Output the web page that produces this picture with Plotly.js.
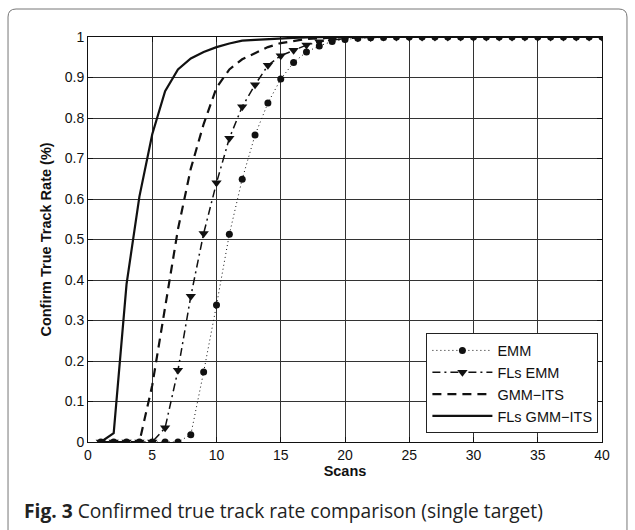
<!DOCTYPE html>
<html>
<head>
<meta charset="utf-8">
<script src="https://cdn.plot.ly/plotly-3.0.1.min.js"></script>
<style>
html,body{margin:0;padding:0;background:#fff;}
#chart{width:635px;height:530px;}
</style>
</head>
<body>
<div id="chart"></div>
<script>
// Scans 1..40
const scans = [1,2,3,4,5,6,7,8,9,10,11,12,13,14,15,16,17,18,19,20,21,22,23,24,25,26,27,28,29,30,31,32,33,34,35,36,37,38,39,40];

const emm = [0,0,0,0,0,0,0,0.018,0.173,0.338,0.513,0.649,0.758,0.837,0.896,0.937,0.963,0.978,0.989,0.994,0.997,0.998,0.999,1,1,1,1,1,1,1,1,1,1,1,1,1,1,1,1,1];

const flsEmm = [0,0,0,0,0,0.035,0.177,0.36,0.515,0.64,0.75,0.828,0.882,0.93,0.954,0.967,0.98,0.988,0.993,0.996,0.998,0.999,1,1,1,1,1,1,1,1,1,1,1,1,1,1,1,1,1,1];

const gmmIts = [0,0,0,0,0.14,0.335,0.525,0.675,0.785,0.875,0.92,0.945,0.96,0.975,0.985,0.99,0.995,0.997,0.999,1,1,1,1,1,1,1,1,1,1,1,1,1,1,1,1,1,1,1,1,1];

const flsGmmIts = [0,0.022,0.39,0.606,0.76,0.866,0.92,0.947,0.963,0.975,0.984,0.991,0.993,0.995,0.997,0.998,0.999,1,1,1,1,1,1,1,1,1,1,1,1,1,1,1,1,1,1,1,1,1,1,1];

const seriesNames = ['EMM','FLs EMM','GMM\u2212ITS','FLs GMM\u2212ITS'];
const xTicks = [0,5,10,15,20,25,30,35,40];
const yTicks = [0,0.1,0.2,0.3,0.4,0.5,0.6,0.7,0.8,0.9,1];
const yTickText = ['0','0.1','0.2','0.3','0.4','0.5','0.6','0.7','0.8','0.9','1'];

const ink = '#111';
const traces = [
  {x: scans, y: emm, name: seriesNames[0], mode: 'lines+markers',
   line: {color: ink, width: 1, dash: '1px,3px'},
   marker: {symbol: 'circle', size: 7, color: ink}},
  {x: scans, y: flsEmm, name: seriesNames[1], mode: 'lines+markers',
   line: {color: ink, width: 1.5, dash: '8px,4px,2px,4px'},
   marker: {symbol: 'triangle-down', size: 9, color: ink}},
  {x: scans, y: gmmIts, name: seriesNames[2], mode: 'lines',
   line: {color: ink, width: 2.2, dash: '9px,6px'}},
  {x: scans, y: flsGmmIts, name: seriesNames[3], mode: 'lines',
   line: {color: ink, width: 2.2}}
];

// frame around figure (paper coords): plot area x 88..602, y 37..442
const L = -0.1556, R = 1.0486, T = 1.0691, B = -0.3, dx = 0.0156, dy = 0.0198;
const framePath = `M ${L},${B} L ${L},${T-dy} Q ${L},${T} ${L+dx},${T} L ${R-dx},${T} Q ${R},${T} ${R},${T-dy} L ${R},${B}`;

const font = {family: '"Liberation Sans", Arial, Helvetica, sans-serif', size: 14, color: '#111'};

const layout = {
  width: 635, height: 530,
  margin: {l: 88, r: 33, t: 37, b: 88},
  paper_bgcolor: '#fff', plot_bgcolor: '#fff',
  font: font,
  showlegend: true,
  legend: {x: 0.993, y: 0.021, xanchor: 'right', yanchor: 'bottom',
    bgcolor: '#fff', bordercolor: '#222', borderwidth: 1,
    font: {family: font.family, size: 14.5, color: '#111'},
    tracegroupgap: 0, itemwidth: 60},
  xaxis: {range: [0, 40], tickvals: xTicks, ticktext: xTicks.map(String),
    showgrid: true, gridcolor: '#333', gridwidth: 1,
    zeroline: false, showline: true, linecolor: '#111', linewidth: 1, mirror: 'ticks',
    ticks: 'inside', ticklen: 5, tickcolor: '#111',
    title: {text: '<b>Scans</b>', font: {family: font.family, size: 14.5, color: '#111'}, standoff: 1}},
  yaxis: {range: [0, 1], tickvals: yTicks, ticktext: yTickText,
    showgrid: true, gridcolor: '#333', gridwidth: 1,
    zeroline: false, showline: true, linecolor: '#111', linewidth: 1, mirror: 'ticks',
    ticks: 'inside', ticklen: 5, tickcolor: '#111',
    title: {text: '<b>Confirm True Track Rate (%)</b>', font: {family: font.family, size: 14.5, color: '#111'}, standoff: 9}},
  shapes: [{type: 'path', xref: 'paper', yref: 'paper', path: framePath,
    line: {color: '#777', width: 1}, fillcolor: 'rgba(0,0,0,0)', layer: 'below'}],
  annotations: [{xref: 'paper', yref: 'paper', x: -0.1284, y: -0.168,
    xanchor: 'left', yanchor: 'middle', showarrow: false,
    text: '<b>Fig. 3</b> Confirmed true track rate comparison (single target)',
    font: {family: '"Open Sans", "Noto Sans", sans-serif', size: 19.2, color: '#222'}}]
};

Plotly.newPlot('chart', traces, layout, {staticPlot: true, displayModeBar: false});
</script>
</body>
</html>
